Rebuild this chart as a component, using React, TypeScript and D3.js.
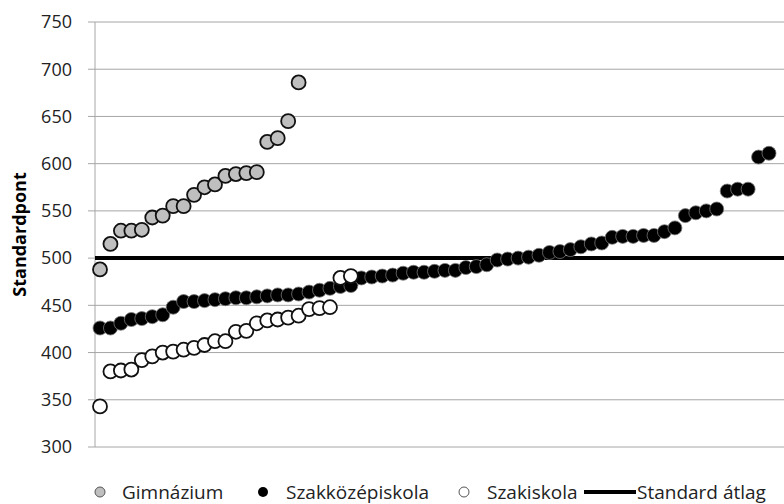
import React from "react";
import * as d3 from "d3";

const yTicks = [300, 350, 400, 450, 500, 550, 600, 650, 700, 750];
const standardAtlag = 500;

const gimnazium = [488, 515, 529, 529, 530, 543, 545, 555, 555, 567, 575, 578, 587, 589, 590, 591, 623, 627, 645, 686];

const szakkozep = [
  426, 426, 431, 435, 436, 438, 440, 448, 454, 454,
  455, 456, 457, 458, 458, 459, 460, 461, 461, 462,
  464, 466, 468, 470, 471, 479, 480, 481, 482, 484,
  485, 485, 486, 487, 487, 490, 491, 493, 498, 499,
  500, 501, 503, 506, 507, 509, 512, 515, 516, 522,
  523, 523, 524, 524, 528, 532, 545, 548, 550, 552,
  571, 573, 573, 607, 611,
];

const szakiskola = [343, 380, 381, 382, 392, 396, 400, 401, 403, 405, 408, 412, 412, 422, 423, 431, 434, 435, 437, 439, 446, 447, 448, 479, 481];

const legendLabels = ["Gimnázium", "Szakközépiskola", "Szakiskola", "Standard átlag"];
const yTitle = "Standardpont";

const W = 784;
const H = 504;
const FONT = "'Open Sans', 'Noto Sans', sans-serif";

export default function App() {
  const y = d3.scaleLinear().domain([300, 750]).range([447, 22]);
  const x = d3.scaleLinear().domain([0, 64]).range([100, 769]);
  const axisX = 95;
  const r = 7;

  return (
    <svg width={W} height={H} style={{ position: "absolute", left: 0, top: 0, background: "#fff" }}>
      {yTicks.map((t) => (
        <line key={"g" + t} x1={axisX} x2={W} y1={y(t)} y2={y(t)} stroke="#a6a6a6" strokeWidth={1} />
      ))}
      <line x1={axisX} x2={axisX} y1={y(750)} y2={y(300)} stroke="#a6a6a6" strokeWidth={1} />
      {yTicks.map((t) => (
        <g key={"t" + t}>
          <line x1={axisX - 7} x2={axisX} y1={y(t)} y2={y(t)} stroke="#a6a6a6" strokeWidth={1} />
          <text x={72} y={y(t)} dy="0.35em" textAnchor="end" fontFamily={FONT} fontSize={18} fill="#222">
            {t}
          </text>
        </g>
      ))}
      <text
        transform={`translate(26, ${(y(750) + y(300)) / 2}) rotate(-90)`}
        textAnchor="middle"
        fontFamily={FONT}
        fontWeight="bold"
        fontSize={18}
        fill="#000"
      >
        {yTitle}
      </text>

      <line x1={axisX} x2={W} y1={y(standardAtlag)} y2={y(standardAtlag)} stroke="#000" strokeWidth={4} />

      {gimnazium.map((v, i) => (
        <circle key={"gm" + i} cx={x(i)} cy={y(v)} r={r} fill="#bfbfbf" stroke="#111" strokeWidth={1.8} />
      ))}
      {szakkozep.map((v, i) => (
        <circle key={"sk" + i} cx={x(i)} cy={y(v)} r={r} fill="#000" stroke="#777" strokeWidth={0.8} />
      ))}
      {szakiskola.map((v, i) => (
        <circle key={"si" + i} cx={x(i)} cy={y(v)} r={r} fill="#fff" stroke="#111" strokeWidth={1.8} />
      ))}

      <g fontFamily={FONT} fontSize={19} fill="#222">
        <circle cx={100} cy={492} r={5} fill="#bfbfbf" stroke="#555" strokeWidth={1} />
        <text x={122} y={492} dy="0.35em">{legendLabels[0]}</text>
        <circle cx={263} cy={492} r={5} fill="#000" />
        <text x={286} y={492} dy="0.35em">{legendLabels[1]}</text>
        <circle cx={464} cy={492} r={5} fill="#fff" stroke="#555" strokeWidth={1} />
        <text x={487} y={492} dy="0.35em">{legendLabels[2]}</text>
        <line x1={584} x2={636} y1={492} y2={492} stroke="#000" strokeWidth={4} />
        <text x={637} y={492} dy="0.35em">{legendLabels[3]}</text>
      </g>
    </svg>
  );
}
